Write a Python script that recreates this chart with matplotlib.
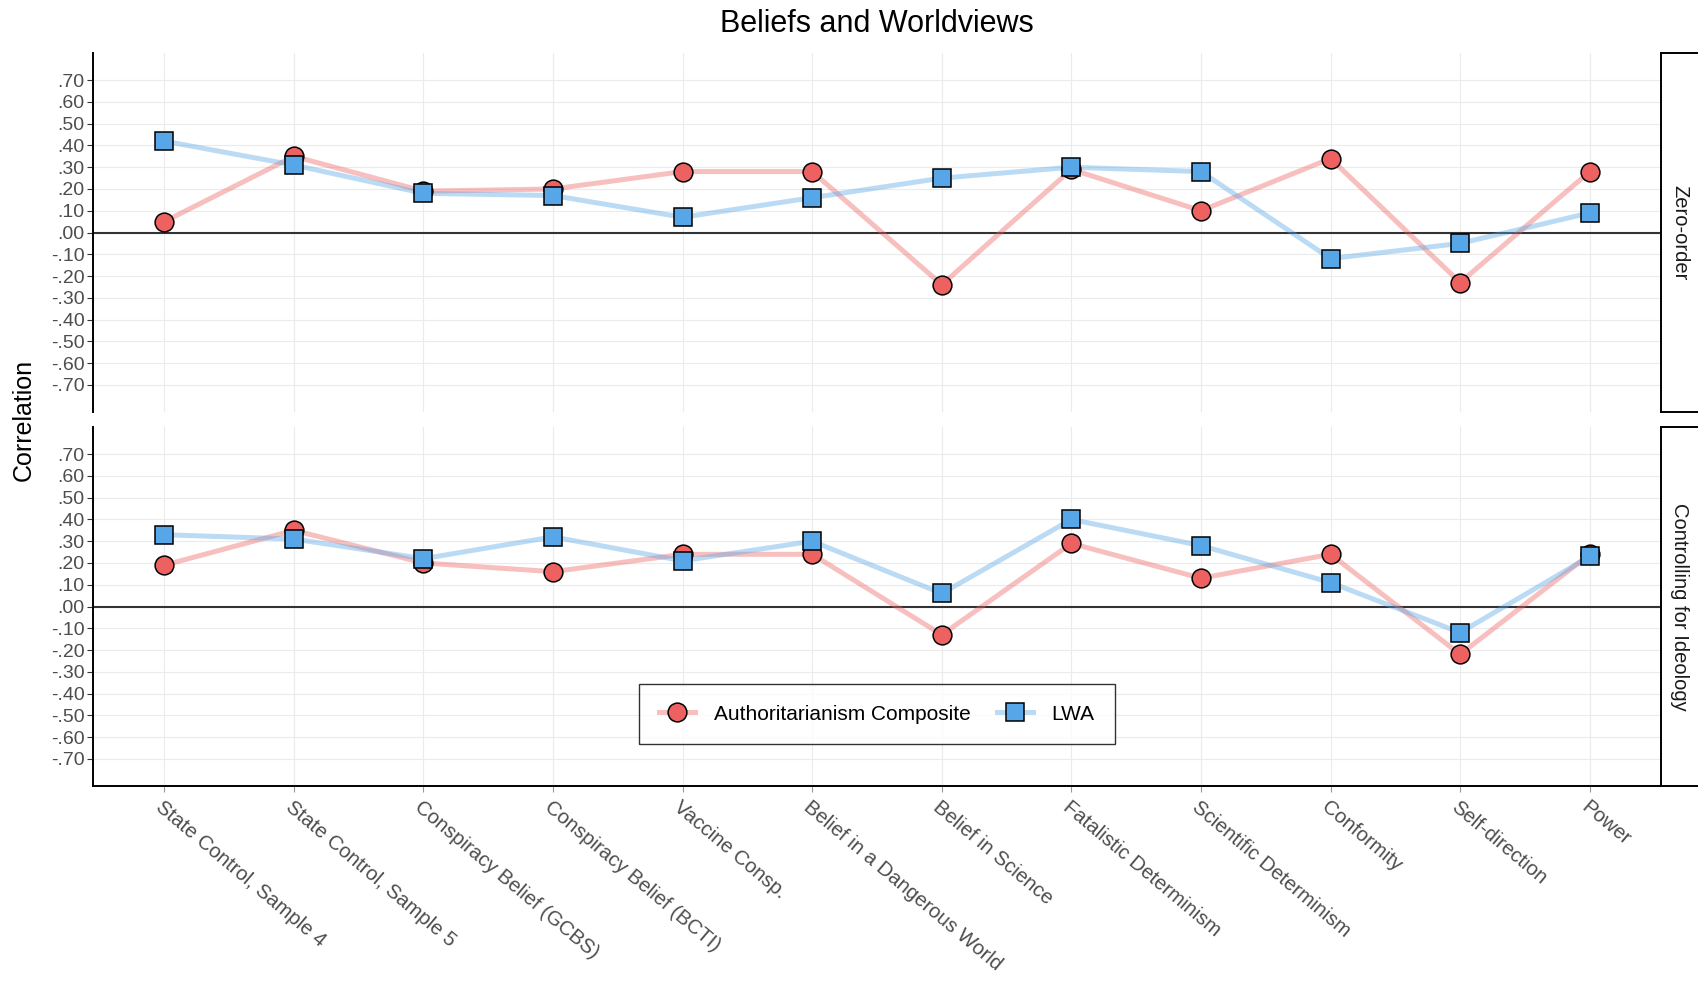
import matplotlib
matplotlib.use("Agg")
import matplotlib.pyplot as plt
from matplotlib.lines import Line2D
import numpy as np

plt.rcParams['font.family'] = ['Liberation Sans', 'DejaVu Sans']

categories = ["State Control, Sample 4", "State Control, Sample 5",
              "Conspiracy Belief (GCBS)", "Conspiracy Belief (BCTI)",
              "Vaccine Consp.", "Belief in a Dangerous World",
              "Belief in Science", "Fatalistic Determinism",
              "Scientific Determinism", "Conformity", "Self-direction", "Power"]

# zero-order correlations
zero_auth = [0.05, 0.35, 0.19, 0.20, 0.28, 0.28, -0.24, 0.29, 0.10, 0.34, -0.23, 0.28]
zero_lwa = [0.42, 0.31, 0.18, 0.17, 0.07, 0.16, 0.25, 0.30, 0.28, -0.12, -0.05, 0.09]
# controlling for ideology
ctrl_auth = [0.19, 0.35, 0.20, 0.16, 0.24, 0.24, -0.13, 0.29, 0.13, 0.24, -0.22, 0.24]
ctrl_lwa = [0.33, 0.31, 0.22, 0.32, 0.21, 0.30, 0.06, 0.40, 0.28, 0.11, -0.12, 0.23]

panels = ["Zero-order", "Controlling for Ideology"]
series_names = ["Authoritarianism Composite", "LWA"]
yticks = np.round(np.arange(-0.7, 0.71, 0.1), 2)

red = '#EE6161'
blue = '#56A6E8'

W, H = 1698, 982
fig = plt.figure(figsize=(W / 100, H / 100), dpi=100)

x = np.arange(len(categories))
left, right = 93, 1661
panel_px = [(53, 412), (427, 786)]
data = [(zero_auth, zero_lwa), (ctrl_auth, ctrl_lwa)]

def fmt(v):
    s = f"{v:.2f}"
    if s == "-0.00":
        s = "0.00"
    return s.replace("0.", ".", 1)

for i, ((top, bot), (auth, lwa)) in enumerate(zip(panel_px, data)):
    ax = fig.add_axes([left / W, 1 - bot / H, (right - left) / W, (bot - top) / H])
    ax.set_xlim(-0.55, len(categories) - 0.45)
    ax.set_ylim(-0.825, 0.825)
    ax.set_yticks(yticks)
    ax.set_yticklabels([fmt(v) for v in yticks])
    ax.set_xticks(x)
    for yv in yticks:
        ax.axhline(yv, color='#EBEBEB', lw=0.8, zorder=0)
    for xv in x:
        ax.axvline(xv, color='#EBEBEB', lw=0.8, zorder=0)
    ax.axhline(0, color='#333333', lw=1.5, zorder=1)

    ax.plot(x, auth, color=red, alpha=0.4, lw=3.6, zorder=2, solid_capstyle='butt')
    ax.plot(x, lwa, color=blue, alpha=0.4, lw=3.6, zorder=2, solid_capstyle='butt')
    ax.plot(x, auth, 'o', ms=13.5, mfc=red, mec='black', mew=1.1, zorder=3)
    ax.plot(x, lwa, 's', ms=12.5, mfc=blue, mec='black', mew=1.1, zorder=4)

    for s in ['top', 'right']:
        ax.spines[s].set_visible(False)
    ax.spines['left'].set_linewidth(1.4)
    ax.spines['left'].set_color('black')
    ax.tick_params(axis='y', length=4, width=0.8, color='#333333',
                   labelsize=14, labelcolor='#4D4D4D', pad=2)
    if i == 0:
        ax.spines['bottom'].set_visible(False)
        ax.tick_params(axis='x', length=0, labelbottom=False)
    else:
        ax.spines['bottom'].set_linewidth(1.4)
        ax.spines['bottom'].set_color('black')
        ax.tick_params(axis='x', length=4, width=0.8, color='#9A9A9A',
                       labelsize=14.6, labelcolor='#4D4D4D', pad=4)
        ax.set_xticklabels(categories, rotation=-40, ha='left', va='top',
                           rotation_mode='anchor')
        handles = [
            Line2D([], [], lw=0, marker='o', ms=13.5,
                   mfc=red, mec='black', mew=1.1),
            Line2D([], [], lw=0, marker='s', ms=12.5,
                   mfc=blue, mec='black', mew=1.1),
        ]
        line_h = [Line2D([], [], color=red, alpha=0.4, lw=3.6),
                  Line2D([], [], color=blue, alpha=0.4, lw=3.6)]
        leg = ax.legend([(line_h[0], handles[0]), (line_h[1], handles[1])],
                        series_names, ncol=2, loc='center',
                        bbox_to_anchor=(877 / W, 1 - 714 / H),
                        bbox_transform=fig.transFigure,
                        fontsize=15, frameon=True, fancybox=False,
                        edgecolor='black', handlelength=1.7, handletextpad=0.9,
                        columnspacing=1.3, borderpad=1.0)
        leg.get_frame().set_linewidth(1.0)

    # facet strip
    sax = fig.add_axes([right / W, 1 - bot / H, 42 / W, (bot - top) / H])
    sax.set_xticks([])
    sax.set_yticks([])
    for s in sax.spines.values():
        s.set_linewidth(1.4)
        s.set_color('black')
    sax.text(0.45, 0.5, panels[i], rotation=-90, ha='center', va='center',
             fontsize=14.5, color='#1A1A1A', transform=sax.transAxes)

fig.text(877 / W, 1 - 24 / H, "Beliefs and Worldviews", ha='center', va='center',
         fontsize=22)
fig.text(24 / W, 1 - 420 / H, "Correlation", rotation=90, ha='center', va='center',
         fontsize=18)

fig.savefig("out.png", dpi=100)
